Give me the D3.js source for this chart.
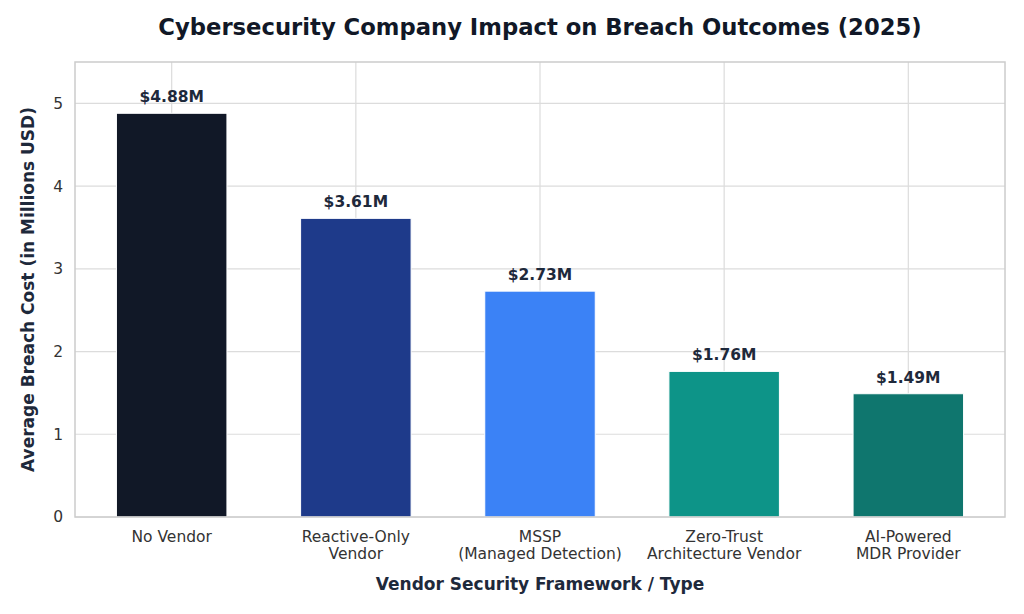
<!DOCTYPE html>
<html>
<head>
<meta charset="utf-8">
<script src="https://cdn.jsdelivr.net/npm/d3@7"></script>
<style>
  body { margin: 0; background: #fff; }
  text { font-family: 'DejaVu Sans', sans-serif; }
</style>
</head>
<body>
<div class="chart"></div>
<script>
const categories = [
  ['No Vendor'],
  ['Reactive-Only', 'Vendor'],
  ['MSSP', '(Managed Detection)'],
  ['Zero-Trust', 'Architecture Vendor'],
  ['AI-Powered', 'MDR Provider']
];
const costs = [4.88, 3.61, 2.73, 1.76, 1.49];
const barColors = ['#111827', '#1e3a8a', '#3b82f6', '#0d9488', '#0f766e'];
const yTicks = [0, 1, 2, 3, 4, 5];

const width = 1024;
const height = 614;
const margin = { top: 62, right: 19, bottom: 97, left: 75 };

const svg = d3.select('.chart')
  .append('svg')
  .attr('width', width)
  .attr('height', height);

const x = d3.scaleLinear()
  .domain([-0.525, categories.length - 0.475])
  .range([margin.left, width - margin.right]);

const y = d3.scaleLinear()
  .domain([0, 5.5])
  .range([height - margin.bottom, margin.top]);

// grid
svg.append('g')
  .selectAll('line.h')
  .data(yTicks)
  .enter().append('line')
  .attr('x1', margin.left).attr('x2', width - margin.right)
  .attr('y1', d => y(d)).attr('y2', d => y(d))
  .attr('stroke', '#dcdcdc').attr('stroke-width', 1.2);

svg.append('g')
  .selectAll('line.v')
  .data(costs)
  .enter().append('line')
  .attr('x1', (d, i) => x(i)).attr('x2', (d, i) => x(i))
  .attr('y1', margin.top).attr('y2', height - margin.bottom)
  .attr('stroke', '#dcdcdc').attr('stroke-width', 1.2);

// bars
const bw = x(0.3) - x(-0.3);
svg.append('g')
  .selectAll('rect')
  .data(costs)
  .enter().append('rect')
  .attr('x', (d, i) => x(i) - bw / 2)
  .attr('y', d => y(d))
  .attr('width', bw)
  .attr('height', d => y(0) - y(d))
  .attr('fill', (d, i) => barColors[i])
  .attr('stroke', '#fff')
  .attr('stroke-width', 1);

// value labels
svg.append('g')
  .selectAll('text')
  .data(costs)
  .enter().append('text')
  .attr('x', (d, i) => x(i))
  .attr('y', d => y(d) - 11)
  .attr('text-anchor', 'middle')
  .attr('font-size', '15.5px')
  .attr('font-weight', 'bold')
  .attr('fill', '#1e293b')
  .text(d => `$${d.toFixed(2)}M`);

// frame
svg.append('rect')
  .attr('x', margin.left).attr('y', margin.top)
  .attr('width', width - margin.left - margin.right)
  .attr('height', height - margin.top - margin.bottom)
  .attr('fill', 'none')
  .attr('stroke', '#cccccc')
  .attr('stroke-width', 1.5);

// y tick labels
svg.append('g')
  .selectAll('text')
  .data(yTicks)
  .enter().append('text')
  .attr('x', margin.left - 12)
  .attr('y', d => y(d))
  .attr('dy', '0.35em')
  .attr('text-anchor', 'end')
  .attr('font-size', '15.5px')
  .attr('fill', '#333')
  .text(d => d);

// x tick labels
const xl = svg.append('g')
  .selectAll('text')
  .data(categories)
  .enter().append('text')
  .attr('x', (d, i) => x(i))
  .attr('y', y(0) + 25)
  .attr('text-anchor', 'middle')
  .attr('font-size', '15.5px')
  .attr('fill', '#333');
xl.selectAll('tspan')
  .data(d => d)
  .enter().append('tspan')
  .attr('x', function () { return this.parentNode.getAttribute('x'); })
  .attr('dy', (d, i) => i === 0 ? 0 : 17)
  .text(d => d);

// titles
svg.append('text')
  .attr('x', 540).attr('y', 35)
  .attr('text-anchor', 'middle')
  .attr('font-size', '22.7px')
  .attr('font-weight', 'bold')
  .attr('fill', '#111827')
  .text('Cybersecurity Company Impact on Breach Outcomes (2025)');

svg.append('text')
  .attr('x', x(2)).attr('y', 590)
  .attr('text-anchor', 'middle')
  .attr('font-size', '17px')
  .attr('font-weight', 'bold')
  .attr('fill', '#1e293b')
  .text('Vendor Security Framework / Type');

svg.append('text')
  .attr('transform', `translate(34,${(margin.top + height - margin.bottom) / 2}) rotate(-90)`)
  .attr('text-anchor', 'middle')
  .attr('font-size', '17px')
  .attr('font-weight', 'bold')
  .attr('fill', '#1e293b')
  .text('Average Breach Cost (in Millions USD)');
</script>
</body>
</html>
